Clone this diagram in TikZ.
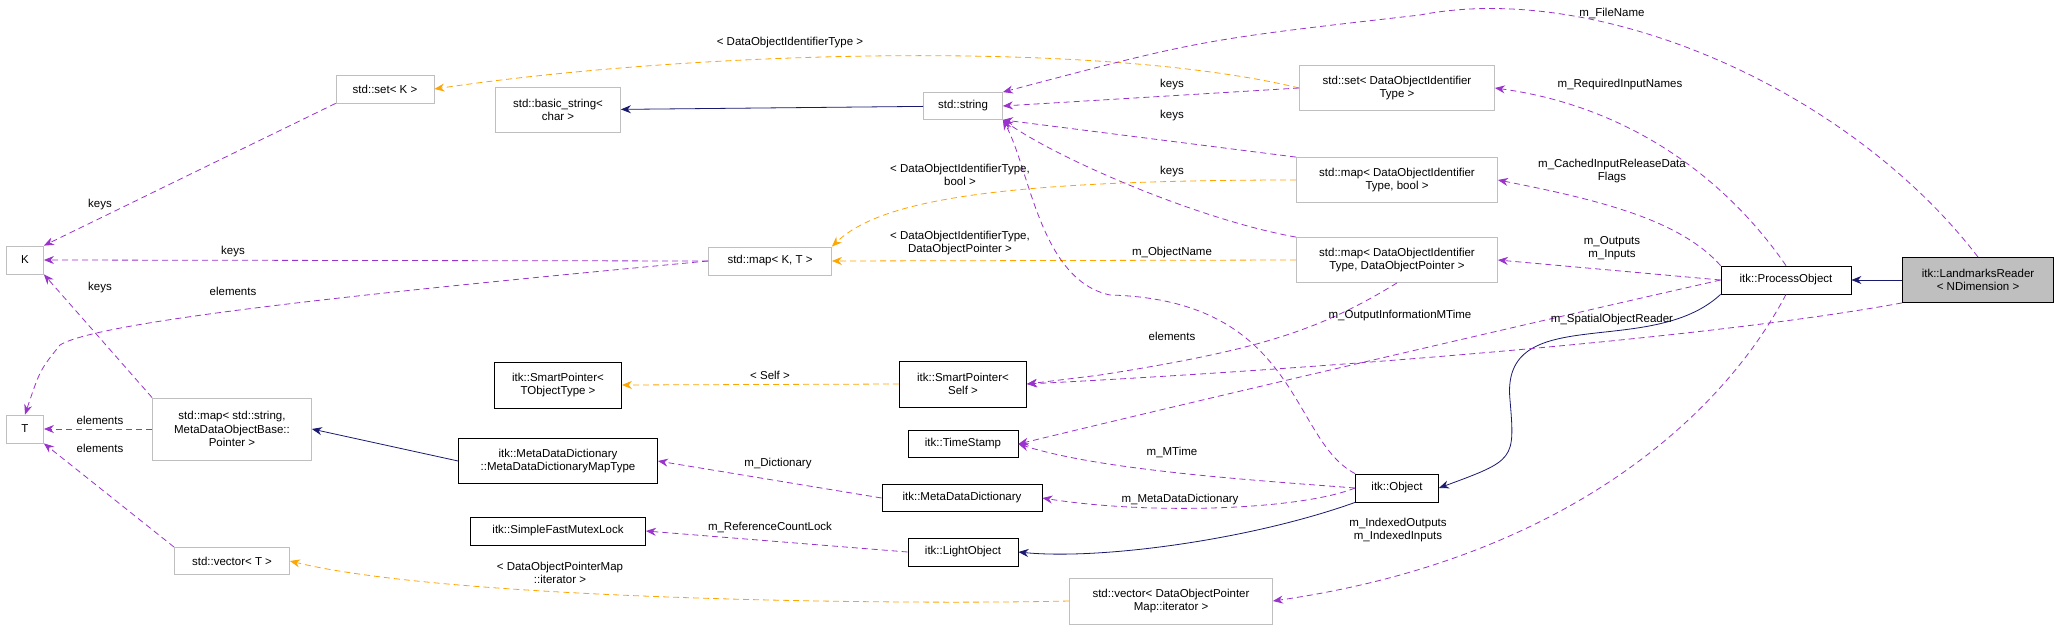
\documentclass[tikz,border=0pt]{standalone}
\usepackage{fontspec}
\setmainfont{Liberation Sans}
\usetikzlibrary{arrows.meta,positioning}
\definecolor{mbar}{HTML}{9A32CD}
\definecolor{tmpl}{HTML}{FFA500}
\definecolor{inh}{HTML}{191970}
\definecolor{ext}{HTML}{BFBFBF}
\begin{document}
\begin{tikzpicture}
[x=1pt,y=-1pt,>={Stealth[length=10pt,width=8pt]},font=\fontsize{11.5}{13.5}\selectfont,
  cls/.style={draw=black,thick,inner sep=3pt,align=center,fill=white},
  xcls/.style={draw=ext,thick,inner sep=3pt,align=center,fill=white},
  use/.style={->,mbar,dashed,thick,dash pattern=on 6pt off 4pt},
  inst/.style={->,tmpl,dashed,thick,dash pattern=on 6pt off 4pt},
  base/.style={->,inh,thick},
  every path/.append style={line width=1.2pt},
  lbl/.style={align=center,inner sep=1pt}]
  \useasboundingbox (0,0) rectangle (2059,629);

  % classes
  \node [xcls,minimum width=98,minimum height=28] (setK) at (385,89) {std::set< K >};
  \node [xcls,minimum width=125,minimum height=45] (bstr) at (558,110) {std::basic\_string<\\char >};
  \node [xcls,minimum width=79,minimum height=27] (str) at (963,106) {std::string};
  \node [xcls,minimum width=37,minimum height=28] (K) at (25,260) {K};
  \node [xcls,minimum width=123,minimum height=28] (mapKT) at (770,261) {std::map< K, T >};
  \node [xcls,minimum width=37,minimum height=28] (T) at (25,429) {T};
  \node [xcls,minimum width=159,minimum height=62] (mapStr) at (232,429) {std::map< std::string,\\MetaDataObjectBase::\\Pointer >};
  \node [cls,minimum width=127,minimum height=46] (spObj) at (558,385) {itk::SmartPointer<\\TObjectType >};
  \node [cls,minimum width=127,minimum height=46] (spSelf) at (963,384) {itk::SmartPointer<\\Self >};
  \node [cls,minimum width=199,minimum height=45] (mddMap) at (558,461) {itk::MetaDataDictionary\\::MetaDataDictionaryMapType};
  \node [cls,minimum width=110,minimum height=27] (stamp) at (963,444) {itk::TimeStamp};
  \node [cls,minimum width=160,minimum height=27] (mdd) at (962,498) {itk::MetaDataDictionary};
  \node [cls,minimum width=175,minimum height=28] (mutex) at (558,531) {itk::SimpleFastMutexLock};
  \node [cls,minimum width=110,minimum height=28] (light) at (963,552) {itk::LightObject};
  \node [xcls,minimum width=115,minimum height=27] (vecT) at (232,561) {std::vector< T >};
  \node [xcls,minimum width=195,minimum height=45] (setId) at (1397,88) {std::set< DataObjectIdentifier\\Type >};
  \node [xcls,minimum width=201,minimum height=45] (mapBool) at (1397,180) {std::map< DataObjectIdentifier\\Type, bool >};
  \node [xcls,minimum width=201,minimum height=45] (mapPtr) at (1397,260) {std::map< DataObjectIdentifier\\Type, DataObjectPointer >};
  \node [cls,minimum width=130,minimum height=28] (proc) at (1786,280) {itk::ProcessObject};
  \node [cls,fill=ext,minimum width=151,minimum height=45] (reader) at (1978,280) {itk::LandmarksReader\\< NDimension >};
  \node [cls,minimum width=83,minimum height=28] (obj) at (1397,488) {itk::Object};
  \node [xcls,minimum width=203,minimum height=46] (vecPtr) at (1171,601) {std::vector< DataObjectPointer\\Map::iterator >};

  % inheritance
  \draw [base] (str) -- (bstr);
  \draw [base] (mddMap.west) -- (mapStr.east);
  \draw [base] (obj.south west) .. controls (1250,540) and (1100,560) .. (light.east);
  \draw [base] (proc.south west) .. controls (1650,360) and (1500,300) .. (1510,400) .. controls (1515,460) .. (obj.east);
  \draw [base] (reader) -- (proc);

  % template instances
  \draw [inst] (setId.west) .. controls (1100,40) and (700,50) .. (setK.east);
  \draw [inst] (mapBool.west) .. controls (1000,180) and (880,200) .. (mapKT.north east);
  \draw [inst] (mapPtr.west) -- (mapKT.east);
  \draw [inst] (spSelf.west) -- (spObj.east);
  \draw [inst] (vecPtr.west) .. controls (900,605) and (450,600) .. (vecT.east);

  % members
  \draw [use] (setK.south west) -- (K.north east);
  \draw [use] (mapKT.west) -- (K.east);
  \draw [use] (mapKT.west) .. controls (400,290) and (100,320) .. (60,345) .. controls (40,370) .. (T.north);
  \draw [use] (mapStr.north west) -- (K.south east);
  \draw [use] (mapStr.west) -- (T.east);
  \draw [use] (vecT.north west) -- (T.south east);
  \draw [use] (setId.west) -- (str.east);
  \draw [use] (mapBool.north west) -- (str.south east);
  \draw [use] (mapPtr.north west) .. controls (1200,220) and (1060,160) .. (str.south east);
  \draw [use] (obj.north west) .. controls (1290,440) and (1300,300) .. (1110,295) .. controls (1040,280) and (1030,170) .. (str.south east);
  \draw [use] (mapPtr.south) .. controls (1320,330) and (1260,350) .. (1100,375) .. controls (1060,380) .. (spSelf.east);
  \draw [use] (mdd.west) -- (mddMap.east);
  \draw [use] (light.west) -- (mutex.east);
  \draw [use] (obj.west) .. controls (1250,480) and (1100,470) .. (stamp.east);
  \draw [use] (obj.west) .. controls (1300,510) and (1150,515) .. (mdd.east);
  \draw [use] (reader.north) .. controls (1850,90) and (1600,-20) .. (1420,15) .. controls (1200,40) .. (str.north east);
  \draw [use] (proc.north) .. controls (1720,170) and (1620,105) .. (setId.east);
  \draw [use] (proc.north west) .. controls (1680,220) and (1600,200) .. (mapBool.east);
  \draw [use] (proc.west) -- (mapPtr.east);
  \draw [use] (proc.west) .. controls (1500,330) and (1200,400) .. (stamp.east);
  \draw [use] (reader.south west) .. controls (1700,340) and (1300,370) .. (spSelf.east);
  \draw [use] (proc.south) .. controls (1720,420) and (1560,560) .. (vecPtr.east);

  % labels
  \node [lbl] (lFile) at (1612,13) {m\_FileName};
  \node [lbl] (lReq) at (1620,85) {m\_RequiredInputNames};
  \node [lbl] (lCache) at (1612,171) {m\_CachedInputReleaseData\\Flags};
  \node [lbl] (lOut) at (1612,248) {m\_Outputs\\m\_Inputs};
  \node [lbl] (lOutTime) at (1400,316) {m\_OutputInformationMTime};
  \node [lbl] (lReader) at (1612,320) {m\_SpatialObjectReader};
  \node [lbl] (lIdx) at (1398,530) {m\_IndexedOutputs\\m\_IndexedInputs};
  \node [lbl] (lKeys1) at (1172,85) {keys};
  \node [lbl] (lKeys2) at (1172,116) {keys};
  \node [lbl] (lKeys3) at (1172,172) {keys};
  \node [lbl] (lName) at (1172,253) {m\_ObjectName};
  \node [lbl] (lElem) at (1172,336) {elements};
  \node [lbl] (lMTime) at (1172,452) {m\_MTime};
  \node [lbl] (lMdd) at (1180,500) {m\_MetaDataDictionary};
  \node [lbl] (lDict) at (778,464) {m\_Dictionary};
  \node [lbl] (lLock) at (770,527) {m\_ReferenceCountLock};
  \node [lbl] (lIter) at (560,573) {< DataObjectPointerMap\\::iterator >};
  \node [lbl] (lSelf) at (770,375) {< Self >};
  \node [lbl] (lSet) at (790,43) {< DataObjectIdentifierType >};
  \node [lbl] (lBool) at (960,175) {< DataObjectIdentifierType,\\bool >};
  \node [lbl] (lPtr) at (960,243) {< DataObjectIdentifierType,\\DataObjectPointer >};
  \node [lbl] (lK1) at (100,205) {keys};
  \node [lbl] (lK2) at (233,252) {keys};
  \node [lbl] (lT1) at (233,291) {elements};
  \node [lbl] (lK3) at (100,288) {keys};
  \node [lbl] (lT2) at (100,420) {elements};
  \node [lbl] (lT3) at (100,448) {elements};
\end{tikzpicture}
\end{document}
